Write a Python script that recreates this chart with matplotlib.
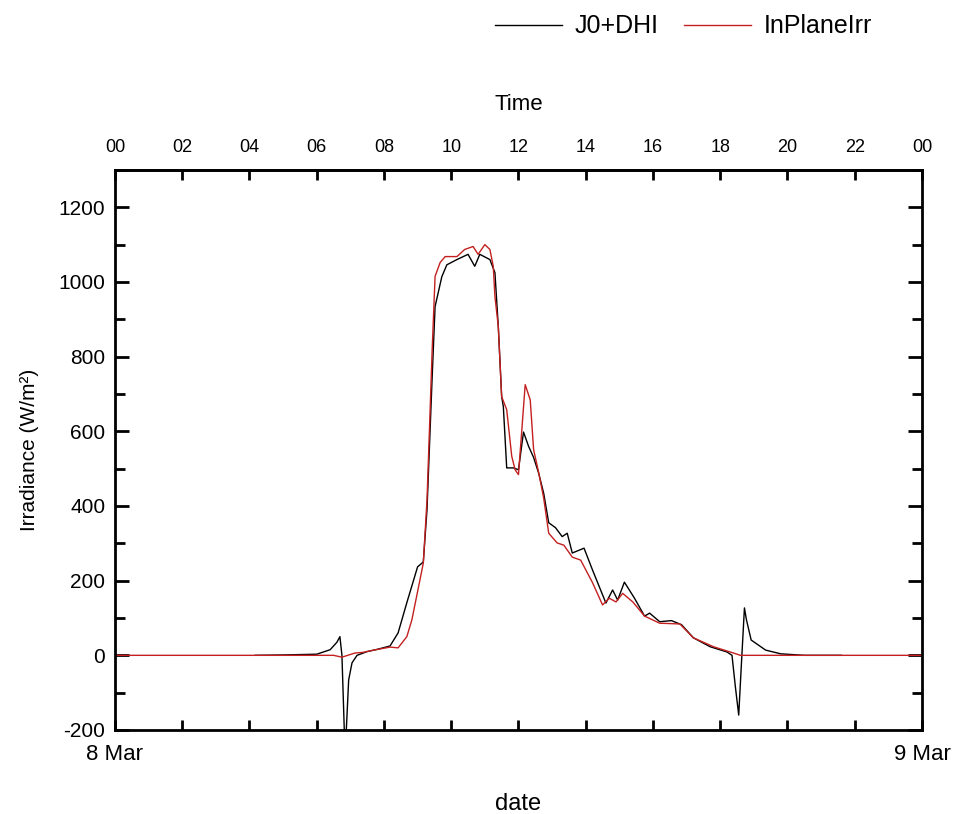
import matplotlib

matplotlib.use("Agg")
import matplotlib.pyplot as plt
from matplotlib.ticker import MultipleLocator, FixedLocator

plt.rcParams["font.family"] = ["Liberation Sans", "DejaVu Sans"]
plt.rcParams["axes.unicode_minus"] = False

# hours after midnight, 8 Mar
j0_hours = [4.17, 5.0, 6.0, 6.4, 6.6, 6.69, 6.75, 6.82, 6.88, 6.95, 7.05, 7.2, 7.5, 7.8,
            8.18, 8.42, 8.68, 9.0, 9.17, 9.28, 9.43, 9.52, 9.72, 9.87, 10.17, 10.5,
            10.7, 10.85, 11.15, 11.3, 11.4, 11.5, 11.55, 11.65, 11.85, 12.0, 12.15,
            12.3, 12.45, 12.6, 12.75, 12.9, 13.1, 13.3, 13.45, 13.6, 13.95, 14.2, 14.6,
            14.8, 14.95, 15.15, 15.45, 15.75, 15.9, 16.2, 16.55, 16.85, 17.2, 17.7,
            18.2, 18.35, 18.45, 18.55, 18.62, 18.72, 18.78, 18.92, 19.35, 19.8, 20.5, 21.6]
j0_dhi = [0, 1, 3, 15, 35, 50, 0, -200, -200, -66, -20, 0, 10, 16,
          25, 60, 141, 237, 250, 390, 738, 934, 1014, 1046, 1060, 1074,
          1042, 1074, 1060, 1025, 881, 693, 666, 502, 502, 497, 598,
          560, 530, 488, 434, 355, 342, 318, 327, 274, 287, 229, 140,
          175, 148, 196, 153, 105, 113, 90, 93, 82, 47, 23,
          9, 0, -84, -160, -40, 127, 95, 41, 14, 4, 0, 0]

irr_hours = [0, 6.5, 6.75, 7.13, 7.38, 7.7, 8.18, 8.42, 8.68, 8.83, 9.07, 9.17, 9.28,
             9.37, 9.43, 9.52, 9.67, 9.82, 10.17, 10.4, 10.65, 10.8, 11.0, 11.15,
             11.25, 11.3, 11.4, 11.5, 11.65, 11.8, 11.9, 12.0, 12.1, 12.2, 12.35,
             12.45, 12.6, 12.75, 12.9, 13.15, 13.35, 13.6, 13.85, 14.2, 14.5, 14.7,
             14.9, 15.1, 15.4, 15.75, 16.2, 16.8, 17.2, 17.8, 18.4, 18.6, 24]
in_plane_irr = [0, 0, -5, 6, 8, 14, 22, 20, 50, 95, 202, 247, 416,
                650, 810, 1015, 1052, 1068, 1068, 1087, 1095, 1074, 1100, 1087,
                1042, 961, 881, 693, 658, 533, 497, 484, 604, 725, 684,
                551, 490, 421, 327, 301, 295, 263, 255, 195, 135, 153,
                143, 166, 143, 105, 86, 84, 47, 23, 6, 0, 0]

top_labels = ["00", "02", "04", "06", "08", "10", "12", "14", "16", "18", "20", "22", "00"]
date_labels = ["8 Mar", "9 Mar"]

fig = plt.figure(figsize=(9.62, 8.14), dpi=100)
ax = fig.add_axes([0.1195, 0.1032, 0.8389, 0.688])

ax.plot(j0_hours, j0_dhi, color="black", lw=1.0, label="J0+DHI")
ax.plot(irr_hours, in_plane_irr, color="#c42020", lw=1.0, label="InPlaneIrr")

ax.set_xlim(0, 24)
ax.set_ylim(-200, 1300)

# y axis: labelled every 200, minor every 100, ticks on both sides
ax.yaxis.set_major_locator(FixedLocator(range(-200, 1201, 200)))
ax.yaxis.set_minor_locator(MultipleLocator(100))
ax.tick_params(axis="y", which="major", direction="in", length=10, width=2,
               right=True, labelsize=15, pad=7)
ax.tick_params(axis="y", which="minor", direction="in", length=7, width=2, right=True)

# bottom axis: ticks every 2 h, only the dates labelled
ax.set_xticks(range(0, 25, 2))
ax.set_xticklabels([date_labels[0]] + [""] * 11 + [date_labels[1]])
ax.tick_params(axis="x", direction="in", length=7, width=2, labelsize=16, pad=10)
ax.set_xlabel("date", fontsize=17, labelpad=20)

# top axis with hours
top = ax.secondary_xaxis("top")
top.set_xticks(range(0, 25, 2))
top.set_xticklabels(top_labels)
top.tick_params(direction="in", length=7, width=2, labelsize=13, pad=10)
top.set_xlabel("Time", fontsize=16, labelpad=21)

ax.set_ylabel("Irradiance (W/m²)", fontsize=15, labelpad=14)

for sp in ax.spines.values():
    sp.set_linewidth(2)
top.spines["top"].set_linewidth(2)

fig.legend(loc="upper right", bbox_to_anchor=(0.93, 1.01), ncol=2, frameon=False,
           fontsize=18, handlelength=2.7, columnspacing=1.0, handletextpad=0.5)

plt.savefig("out.png", dpi=100)
